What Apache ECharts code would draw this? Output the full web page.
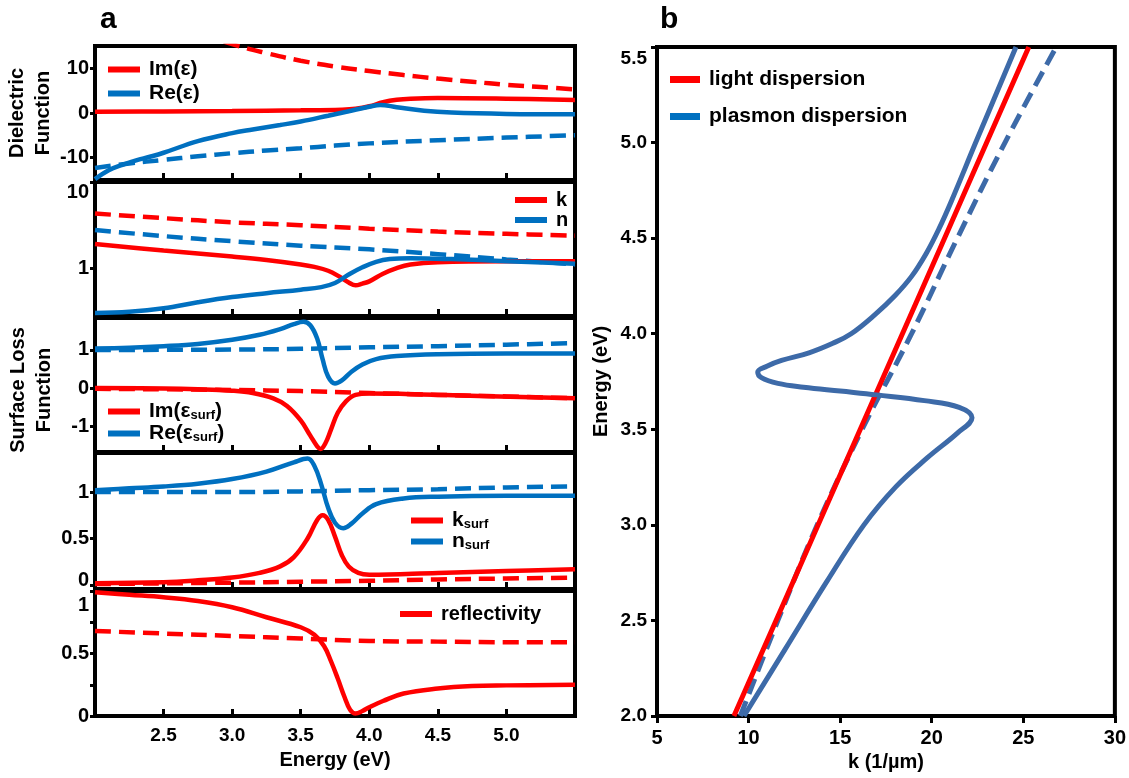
<!DOCTYPE html>
<html>
<head>
<meta charset="utf-8">
<script src="https://cdn.jsdelivr.net/npm/echarts@6/dist/echarts.min.js"></script>
<style>
html, body { margin: 0; padding: 0; background: #fff; }
#main { width: 1129px; height: 778px; }
</style>
</head>
<body>
<div id="main"></div>
<script>
// ---- panel a, values read as [energy (eV), value] ----
var imEps = [[2.0,0.3],[2.5,0.35],[3.0,0.45],[3.5,0.6],[3.8,0.75],[3.9,0.95],[4.0,1.5],[4.1,2.4],[4.2,2.95],[4.3,3.2],[4.5,3.35],[5.0,3.2],[5.5,2.9]];
var reEps = [[2.0,-14.8],[2.1,-12.8],[2.2,-11.6],[2.3,-10.6],[2.4,-9.8],[2.5,-8.9],[2.75,-6.3],[3.0,-4.5],[3.15,-3.7],[3.35,-2.7],[3.5,-1.9],[3.7,-0.6],[3.85,0.4],[4.0,1.4],[4.08,1.8],[4.2,1.3],[4.4,0.5],[4.6,0.1],[5.0,-0.2],[5.5,-0.3]];
var imEpsRef = [[2.0,30],[2.5,21],[2.75,18],[3.0,15.4],[3.25,13.4],[3.5,11.7],[3.75,10.4],[4.0,9.4],[4.25,8.5],[4.5,7.7],[4.75,7.0],[5.0,6.3],[5.25,5.8],[5.5,5.3]];
var reEpsRef = [[2.0,-12.3],[2.25,-11.3],[2.5,-10.5],[2.75,-9.7],[3.0,-9.0],[3.25,-8.4],[3.5,-7.9],[3.75,-7.3],[4.0,-6.8],[4.5,-6.1],[5.0,-5.5],[5.5,-5.0]];

var kIdx = [[2.0,1.9],[2.5,1.6],[3.0,1.36],[3.25,1.24],[3.5,1.1],[3.6,1.03],[3.7,0.93],[3.78,0.8],[3.85,0.68],[3.9,0.63],[3.95,0.66],[4.0,0.7],[4.1,0.86],[4.2,1.0],[4.3,1.1],[4.5,1.17],[5.0,1.2],[5.5,1.2]];
var nIdx = [[2.0,0.3],[2.25,0.31],[2.5,0.34],[2.75,0.4],[3.0,0.46],[3.25,0.51],[3.5,0.56],[3.65,0.6],[3.75,0.67],[3.85,0.84],[3.95,1.02],[4.05,1.18],[4.15,1.27],[4.3,1.3],[4.6,1.27],[5.0,1.2],[5.5,1.12]];
var kIdxRef = [[2.0,4.3],[2.5,3.8],[3.0,3.4],[3.5,3.15],[4.0,2.87],[4.5,2.65],[5.0,2.5],[5.5,2.38]];
var nIdxRef = [[2.0,2.77],[2.5,2.35],[3.0,2.05],[3.5,1.82],[4.0,1.65],[4.5,1.45],[5.0,1.26],[5.5,1.1]];

var imSurf = [[2.0,0.0],[2.5,-0.01],[2.75,-0.03],[3.0,-0.07],[3.15,-0.13],[3.3,-0.27],[3.4,-0.47],[3.5,-0.85],[3.57,-1.25],[3.62,-1.53],[3.645,-1.6],[3.68,-1.45],[3.72,-1.1],[3.77,-0.65],[3.83,-0.35],[3.9,-0.18],[4.0,-0.14],[4.3,-0.16],[4.8,-0.21],[5.5,-0.27]];
var reSurf = [[2.0,1.04],[2.25,1.06],[2.5,1.1],[2.75,1.16],[3.0,1.27],[3.2,1.4],[3.35,1.55],[3.45,1.68],[3.52,1.74],[3.57,1.65],[3.62,1.3],[3.66,0.75],[3.7,0.3],[3.75,0.12],[3.8,0.2],[3.87,0.43],[3.95,0.62],[4.05,0.76],[4.2,0.84],[4.5,0.89],[5.0,0.91],[5.5,0.91]];
var imSurfRef = [[2.0,-0.02],[3.0,-0.05],[3.5,-0.08],[4.0,-0.13],[4.5,-0.18],[5.0,-0.22],[5.5,-0.27]];
var reSurfRef = [[2.0,1.0],[3.0,1.01],[3.5,1.03],[4.0,1.07],[4.5,1.1],[5.0,1.14],[5.5,1.18]];

var kSurf = [[2.0,0.02],[2.5,0.03],[2.75,0.05],[3.0,0.08],[3.2,0.13],[3.35,0.2],[3.45,0.3],[3.55,0.5],[3.62,0.7],[3.66,0.75],[3.7,0.7],[3.75,0.52],[3.8,0.32],[3.85,0.2],[3.92,0.13],[4.0,0.11],[4.5,0.13],[5.0,0.15],[5.5,0.17]];
var nSurf = [[2.0,1.02],[2.25,1.04],[2.5,1.06],[2.75,1.09],[3.0,1.14],[3.25,1.22],[3.45,1.32],[3.55,1.36],[3.6,1.28],[3.65,1.08],[3.7,0.83],[3.75,0.67],[3.81,0.61],[3.87,0.66],[3.95,0.77],[4.05,0.87],[4.25,0.93],[4.5,0.95],[5.0,0.96],[5.5,0.96]];
var kSurfRef = [[2.0,0.01],[3.0,0.025],[3.5,0.035],[4.0,0.045],[4.5,0.06],[5.0,0.07],[5.5,0.08]];
var nSurfRef = [[2.0,1.0],[3.0,1.0],[4.0,1.02],[4.5,1.03],[5.0,1.05],[5.5,1.06]];

var refl = [[2.0,0.99],[2.25,0.97],[2.5,0.95],[2.75,0.92],[3.0,0.87],[3.25,0.79],[3.5,0.71],[3.6,0.65],[3.67,0.56],[3.72,0.44],[3.77,0.3],[3.82,0.15],[3.86,0.05],[3.9,0.02],[3.95,0.04],[4.0,0.07],[4.1,0.12],[4.25,0.18],[4.5,0.22],[4.75,0.24],[5.0,0.245],[5.5,0.25]];
var reflRef = [[2.0,0.68],[2.5,0.66],[3.0,0.64],[3.5,0.62],[4.0,0.6],[4.5,0.595],[5.0,0.59],[5.5,0.59]];

// ---- panel b, values read as [k (1/um), energy (eV)] ----
var lightDisp = [[9.2,2.0],[11.5,2.5],[13.8,3.0],[16.1,3.5],[18.4,4.0],[20.7,4.5],[23.0,5.0],[25.3,5.5]];
var plasmonDisp = [[9.75,2.0],[12.0,2.35],[14.25,2.7],[16.3,3.0],[18.05,3.2],[19.75,3.35],[21.4,3.48],[22.2,3.56],[21.5,3.615],[19.6,3.65],[17.0,3.68],[15.0,3.7],[13.0,3.72],[11.6,3.74],[10.7,3.77],[10.5,3.8],[11.0,3.83],[11.8,3.86],[13.3,3.9],[14.6,3.95],[15.6,4.0],[16.9,4.1],[18.0,4.2],[18.9,4.3],[19.7,4.42],[20.4,4.55],[21.1,4.7],[22.4,5.0],[23.5,5.25],[24.6,5.5]];
var plasmonDispRef = [[9.55,2.0],[11.6,2.5],[13.75,3.0],[16.2,3.5],[18.9,4.0],[21.4,4.5],[24.0,5.0],[26.8,5.5]];

var energyTicks = [2.5, 3.0, 3.5, 4.0, 4.5, 5.0];

var RED = '#ff0000';
var BLUE = '#0070c0';
var STEEL = '#3d6aa8';
var FONT = 'Liberation Sans';

function txt(size) {
    return { fontFamily: FONT, fontWeight: 'bold', fontSize: size, color: '#000' };
}

function line(name, data, idx, color, dashed, lineColor) {
    return {
        name: name,
        type: 'line',
        xAxisIndex: idx,
        yAxisIndex: idx,
        data: data,
        showSymbol: false,
        smooth: 0.4,
        clip: true,
        itemStyle: { color: color },
        lineStyle: { color: lineColor || color, width: idx < 5 ? 4.5 : 5, type: dashed ? [16, 8] : 'solid' },
        emphasis: { disabled: true }
    };
}

function toLog(arr) {
    return arr.map(function (d) { return [d[0], Math.log10(d[1])]; });
}

var gridBox = { show: true, borderColor: '#000', borderWidth: 4, backgroundColor: 'transparent' };
var grids = [
    { left: 95, top: 46, width: 480, height: 134 },
    { left: 95, top: 182, width: 480, height: 134 },
    { left: 95, top: 318, width: 480, height: 134 },
    { left: 95, top: 453, width: 480, height: 136 },
    { left: 95, top: 591, width: 480, height: 125 },
    { left: 657, top: 47, width: 459, height: 669 }
].map(function (g) { return Object.assign({}, gridBox, g); });

var xAxes = [];
for (var i = 0; i < 5; i++) {
    xAxes.push({
        type: 'value', gridIndex: i, min: 2, max: 5.5,
        axisLine: { show: false, onZero: false },
        axisTick: { inside: true, length: 7, lineStyle: { width: 3, color: '#000' }, customValues: energyTicks },
        axisLabel: Object.assign({ show: i === 4, margin: 10, customValues: energyTicks,
            formatter: function (v) { return v.toFixed(1); } }, txt(19)),
        splitLine: { show: false },
        name: i === 4 ? 'Energy (eV)' : '',
        nameLocation: 'middle', nameGap: 34, nameTextStyle: txt(20)
    });
}
xAxes.push({
    type: 'value', gridIndex: 5, min: 5, max: 30, interval: 5,
    axisLine: { show: false, onZero: false },
    axisTick: { length: 7, lineStyle: { width: 3, color: '#000' } },
    axisLabel: Object.assign({ margin: 12 }, txt(20)),
    splitLine: { show: false },
    name: 'k (1/µm)', nameLocation: 'middle', nameGap: 32, nameTextStyle: txt(20)
});

function yAxis(idx, min, max, ticks, extra) {
    var ax = {
        type: 'value', gridIndex: idx, min: min, max: max,
        axisLine: { show: false, onZero: false },
        axisTick: { length: 5, lineStyle: { width: 3, color: '#000' }, customValues: ticks },
        axisLabel: Object.assign({ margin: 6, customValues: ticks }, txt(20)),
        splitLine: { show: false }
    };
    return Object.assign(ax, extra || {});
}

var richNum = {
    n: txt(20),
    n19: txt(19),
    dn10: Object.assign({ padding: [20, 0, 0, 0] }, txt(20)),
    dn12: Object.assign({ padding: [24, 0, 0, 0] }, txt(19)),
    dn14: Object.assign({ padding: [28, 0, 0, 0] }, txt(20)),
    up5: Object.assign({ padding: [0, 0, 10, 0] }, txt(20))
};

var yAxes = [
    yAxis(0, -15, 15, [-10, 0, 10], {
        name: 'Dielectric\nFunction', nameLocation: 'middle', nameRotate: 90, nameGap: 38,
        nameTextStyle: Object.assign({ lineHeight: 26 }, txt(20))
    }),
    yAxis(1, Math.log10(0.277), 1, [0, 1]),
    yAxis(2, -1.68, 1.84, [-1, 0, 1], {
        name: 'Surface Loss\nFunction', nameLocation: 'middle', nameRotate: 90, nameGap: 38,
        nameTextStyle: Object.assign({ lineHeight: 26, padding: [0, 10, 0, 0] }, txt(20))
    }),
    yAxis(3, -0.043, 1.42, [0, 0.5, 1]),
    yAxis(4, 0, 1, [0, 0.5, 1]),
    {
        type: 'value', gridIndex: 5, min: 2, max: 5.5, interval: 0.5,
        axisLine: { show: false, onZero: false },
        axisTick: { length: 6, lineStyle: { width: 3, color: '#000' } },
        axisLabel: Object.assign({ margin: 10, rich: richNum, formatter: function (v) {
            return v === 5.5 ? '{dn12|5.5}' : '{n19|' + v.toFixed(1) + '}';
        } }, txt(19)),
        splitLine: { show: false },
        name: 'Energy (eV)', nameLocation: 'middle', nameRotate: 90, nameGap: 46, nameTextStyle: txt(20)
    }
];
// log-scale labels for the k / n panel
yAxes[1].axisLabel.formatter = function (v) { return v > 0.5 ? '{dn10|10}' : '{n|1}'; };
yAxes[1].axisLabel.rich = richNum;
yAxes[3].axisLabel.formatter = function (v) { return v === 0 ? '{up5|0}' : '{n|' + v + '}'; };
yAxes[3].axisLabel.rich = richNum;
yAxes[4].axisTick.customValues = [0, 0.25, 0.5, 0.75, 1];
yAxes[4].axisLabel.formatter = function (v) { return v === 1 ? '{dn14|1}' : '{n|' + v + '}'; };
yAxes[4].axisLabel.rich = richNum;

var legendRich = {
    m: txt(21),
    s: Object.assign({ verticalAlign: 'bottom', lineHeight: 14 }, txt(13))
};
function legend(names, left, top, gap, size) {
    return {
        data: names, orient: 'vertical', left: left, top: top, itemGap: gap,
        icon: 'rect', itemWidth: 32, itemHeight: 6, selectedMode: false,
        textStyle: Object.assign({ padding: [0, 0, 0, 4] }, txt(size || 21)),
        formatter: function (name) {
            if (name.indexOf('_surf') < 0) return name;
            var parts = name.split('_surf');
            return '{m|' + parts[0] + '}{s|surf}{m|' + parts[1] + '}';
        }
    };
}
var legends = [
    legend(['Im(ε)', 'Re(ε)'], 103, 54, 3),
    legend(['k', 'n'], 510, 185, 0, 20),
    legend(['Im(ε_surf)', 'Re(ε_surf)'], 103, 396, 1),
    legend(['k_surf', 'n_surf'], 406, 505, 0),
    legend(['reflectivity'], 395, 599, 0, 20),
    legend(['light dispersion', 'plasmon dispersion'], 665, 64, 16)
];
legends[2].textStyle.rich = legendRich;
legends[3].textStyle.rich = legendRich;
legends[5].itemWidth = 30;
legends[5].itemHeight = 7;

var series = [
    line('Im(ε) model', imEpsRef, 0, RED, true),
    line('Re(ε) model', reEpsRef, 0, BLUE, true),
    line('Im(ε)', imEps, 0, RED, false),
    line('Re(ε)', reEps, 0, BLUE, false),

    line('k model', toLog(kIdxRef), 1, RED, true),
    line('n model', toLog(nIdxRef), 1, BLUE, true),
    line('k', toLog(kIdx), 1, RED, false),
    line('n', toLog(nIdx), 1, BLUE, false),

    line('Im(ε_surf) model', imSurfRef, 2, RED, true),
    line('Re(ε_surf) model', reSurfRef, 2, BLUE, true),
    line('Im(ε_surf)', imSurf, 2, RED, false),
    line('Re(ε_surf)', reSurf, 2, BLUE, false),

    line('k_surf model', kSurfRef, 3, RED, true),
    line('n_surf model', nSurfRef, 3, BLUE, true),
    line('k_surf', kSurf, 3, RED, false),
    line('n_surf', nSurf, 3, BLUE, false),

    line('reflectivity model', reflRef, 4, RED, true),
    line('reflectivity', refl, 4, RED, false),

    line('plasmon dispersion model', plasmonDispRef, 5, BLUE, true, STEEL),
    line('light dispersion', lightDisp, 5, RED, false),
    line('plasmon dispersion', plasmonDisp, 5, BLUE, false, STEEL)
];

var chart = echarts.init(document.getElementById('main'), null, { renderer: 'canvas' });
chart.setOption({
    animation: false,
    backgroundColor: '#fff',
    title: [
        { text: 'a', left: 95, top: 0, textStyle: txt(30) },
        { text: 'b', left: 655, top: 0, textStyle: txt(30) }
    ],
    grid: grids,
    xAxis: xAxes,
    yAxis: yAxes,
    legend: legends,
    series: series
});
window.onresize = chart.resize;
</script>
</body>
</html>
